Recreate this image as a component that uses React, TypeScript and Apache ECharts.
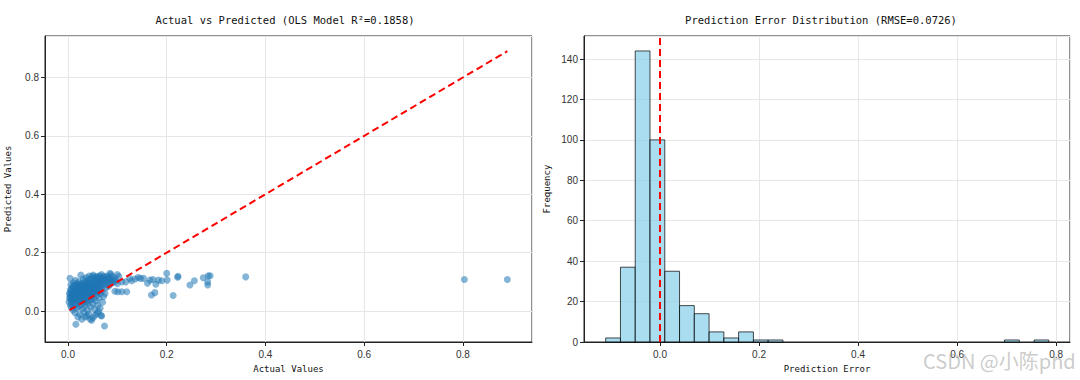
import React, { useEffect, useRef } from "react";
import * as echarts from "echarts";

// Left panel: actual vs predicted (OLS)
const actualValues: number[] = [
  0.002, 0.003, 0.004, 0.004, 0.005, 0.005, 0.006, 0.006, 0.007, 0.007, 0.008, 0.008, 0.009, 0.009, 0.010, 0.010,
  0.011, 0.011, 0.012, 0.012, 0.013, 0.013, 0.014, 0.014, 0.015, 0.015, 0.016, 0.016, 0.017, 0.017, 0.018, 0.018,
  0.019, 0.019, 0.020, 0.020, 0.021, 0.021, 0.022, 0.022, 0.023, 0.023, 0.024, 0.024, 0.025, 0.025, 0.026, 0.026,
  0.027, 0.027, 0.028, 0.028, 0.029, 0.029, 0.030, 0.030, 0.031, 0.031, 0.032, 0.032, 0.033, 0.033, 0.034, 0.034,
  0.035, 0.035, 0.036, 0.036, 0.037, 0.037, 0.038, 0.038, 0.039, 0.039, 0.040, 0.040, 0.041, 0.041, 0.042, 0.042,
  0.043, 0.043, 0.044, 0.044, 0.045, 0.045, 0.046, 0.046, 0.047, 0.047, 0.048, 0.048, 0.049, 0.049, 0.050, 0.050,
  0.051, 0.051, 0.052, 0.052, 0.053, 0.053, 0.054, 0.054, 0.055, 0.055, 0.056, 0.056, 0.057, 0.057, 0.058, 0.058,
  0.059, 0.059, 0.060, 0.060, 0.061, 0.061, 0.062, 0.062, 0.063, 0.063, 0.064, 0.064, 0.065, 0.065, 0.066, 0.066,
  0.067, 0.067, 0.068, 0.068, 0.069, 0.069, 0.070, 0.070, 0.071, 0.072, 0.072, 0.073, 0.074, 0.074, 0.075, 0.076,
  0.077, 0.078, 0.079, 0.080, 0.081, 0.082, 0.083, 0.084, 0.085, 0.086, 0.087, 0.088, 0.090, 0.091, 0.093, 0.095,
  0.095, 0.097, 0.100, 0.101,
  0.003, 0.005, 0.006, 0.008, 0.009, 0.010, 0.011, 0.012, 0.013, 0.014, 0.015, 0.016, 0.017, 0.018, 0.019, 0.020,
  0.021, 0.022, 0.023, 0.024, 0.025, 0.026, 0.027, 0.028, 0.029, 0.030, 0.031, 0.032, 0.033, 0.034, 0.035, 0.036,
  0.037, 0.038, 0.039, 0.040, 0.041, 0.042, 0.043, 0.044, 0.045, 0.046, 0.047, 0.048, 0.049, 0.050, 0.052, 0.053,
  0.055, 0.057, 0.060, 0.062, 0.064, 0.067,
  0.100, 0.103, 0.109, 0.109, 0.117, 0.119, 0.125, 0.129, 0.136, 0.142, 0.147, 0.153, 0.161, 0.166, 0.169, 0.172,
  0.176, 0.178, 0.183, 0.190, 0.200, 0.201, 0.213, 0.222, 0.223, 0.247, 0.256, 0.274, 0.284, 0.288, 0.283, 0.283,
  0.360, 0.803, 0.890,
];
const predictedValues: number[] = [
  0.031, 0.045, 0.112, 0.058, 0.020, 0.071, 0.038, 0.090, 0.012, 0.052, 0.066, 0.027, 0.082, 0.043, 0.004, 0.060,
  0.097, 0.035, 0.075, 0.018, 0.050, 0.088, -0.006, 0.062, 0.040, 0.105, -0.045, 0.078, 0.025, 0.055, 0.093, 0.010,
  0.068, 0.046, -0.020, 0.084, 0.033, 0.059, 0.100, 0.015, 0.072, 0.048, -0.012, 0.090, 0.038, 0.065, 0.123, 0.022,
  0.080, 0.053, -0.028, 0.095, 0.042, 0.070, 0.008, 0.060, 0.110, 0.030, 0.086, -0.004, 0.050, 0.075, 0.101, 0.018,
  0.064, -0.020, 0.088, 0.040, 0.115, 0.057, -0.017, 0.079, 0.026, 0.096, 0.062, 0.003, 0.106, 0.045, 0.083, -0.010,
  0.070, 0.120, 0.035, 0.092, -0.028, 0.058, 0.110, 0.014, 0.076, 0.098, -0.031, 0.050, 0.118, 0.087, 0.024, 0.067,
  0.123, -0.022, 0.095, 0.042, 0.080, 0.112, 0.060, 0.005, -0.014, 0.102, 0.072, 0.118, 0.035, 0.090, 0.055, 0.108,
  -0.008, 0.084, 0.117, 0.020, 0.066, 0.100, -0.002, 0.112, 0.078, 0.045, 0.094, 0.121, 0.010, 0.060, 0.104, 0.085,
  -0.015, 0.115, 0.125, -0.017, 0.070, 0.098, 0.112, 0.030, 0.088, 0.119, 0.050, 0.106, -0.051, 0.092, 0.060, 0.114,
  0.080, 0.106, 0.120, 0.096, 0.110, 0.085, 0.116, 0.102, 0.129, 0.092, 0.125, 0.108, 0.118, 0.098, 0.105, 0.068,
  0.112, 0.102, 0.094, 0.066,
  0.060, 0.048, 0.075, 0.040, 0.055, 0.070, 0.050, 0.062, 0.030, 0.085, 0.058, 0.045, 0.070, 0.036, 0.080, 0.052,
  0.075, 0.060, 0.090, 0.040, 0.082, 0.057, 0.068, 0.046, 0.088, 0.075, 0.054, 0.066, 0.092, 0.044, 0.080, 0.070,
  0.032, 0.098, 0.060, 0.085, 0.072, 0.050, 0.095, 0.068, 0.082, 0.055, 0.040, 0.090, 0.070, 0.100, 0.062, 0.090,
  0.078, 0.068, 0.092, 0.080, 0.070, 0.095,
  0.125, 0.118, 0.100, 0.066, 0.100, 0.066, 0.112, 0.104, 0.110, 0.115, 0.112, 0.112, 0.095, 0.106, 0.055, 0.108,
  0.063, 0.092, 0.106, 0.104, 0.129, 0.106, 0.053, 0.116, 0.119, 0.089, 0.104, 0.114, 0.121, 0.121, 0.100, 0.089,
  0.117, 0.108, 0.108,
];
const idealLine: number[][] = [
  [0.003, 0.003],
  [0.89, 0.89],
];

// Right panel: histogram of prediction errors (30 bins)
const histStart = -0.1097;
const histBinWidth = 0.02983;
const histCounts: number[] = [
  2, 37, 144, 100, 35, 18, 14, 5, 2, 5, 1, 1, 0, 0, 0, 0, 0, 0, 0, 0, 0, 0, 0, 0, 0, 0, 0, 1, 0, 1,
];

const leftTitle = "Actual vs Predicted (OLS Model R²=0.1858)";
const rightTitle = "Prediction Error Distribution (RMSE=0.0726)";

const MONO = "'DejaVu Sans Mono', 'Liberation Mono', monospace";
const SANS = "'Liberation Sans', Arial, sans-serif";

export default function App() {
  const ref = useRef<HTMLDivElement>(null);

  useEffect(() => {
    if (!ref.current) return;
    const chart = echarts.init(ref.current, undefined, { renderer: "svg" });

    const scatterData = actualValues.map((x, i) => [x, predictedValues[i]]);
    const histData = histCounts
      .map((c, i) => [histStart + i * histBinWidth, histStart + (i + 1) * histBinWidth, c])
      .filter((d) => d[2] > 0);

    const splitLine = { show: true, lineStyle: { color: "#e6e6e6", width: 1 } };
    const axisLine = { show: true, onZero: false, lineStyle: { color: "#222", width: 1 } };
    const axisTick = { show: true, inside: false, length: 4, lineStyle: { color: "#222" } };
    const tickLabel = { color: "#333", fontFamily: SANS, fontSize: 10 };
    const nameStyle = { color: "#111", fontFamily: MONO, fontSize: 9 };

    chart.setOption({
      animation: false,
      backgroundColor: "#ffffff",
      title: [
        {
          text: leftTitle,
          left: 280,
          top: 9,
          textAlign: "center",
          textStyle: { fontFamily: MONO, fontSize: 10.5, fontWeight: "normal", color: "#111" },
        },
        {
          text: rightTitle,
          left: 816,
          top: 9,
          textAlign: "center",
          textStyle: { fontFamily: MONO, fontSize: 10.5, fontWeight: "normal", color: "#111" },
        },
      ],
      grid: [
        { left: 45, top: 36, width: 487, height: 306, show: true, borderColor: "#222", borderWidth: 1, backgroundColor: "transparent" },
        { left: 584, top: 36, width: 486, height: 306, show: true, borderColor: "#222", borderWidth: 1, backgroundColor: "transparent" },
      ],
      xAxis: [
        {
          type: "value",
          gridIndex: 0,
          min: -0.0466,
          max: 0.94,
          splitNumber: 5,
          name: "Actual Values",
          nameLocation: "middle",
          nameGap: 22,
          nameTextStyle: nameStyle,
          axisLine,
          axisTick,
          splitLine,
          axisLabel: { ...tickLabel, margin: 7, showMinLabel: false, showMaxLabel: false, formatter: (v: number) => v.toFixed(1) },
        },
        {
          type: "value",
          gridIndex: 1,
          min: -0.1535,
          max: 0.828,
          splitNumber: 5,
          name: "Prediction Error",
          nameLocation: "middle",
          nameGap: 22,
          nameTextStyle: nameStyle,
          axisLine,
          axisTick,
          splitLine,
          axisLabel: { ...tickLabel, margin: 7, showMinLabel: false, showMaxLabel: false, formatter: (v: number) => v.toFixed(1) },
        },
      ],
      yAxis: [
        {
          type: "value",
          gridIndex: 0,
          min: -0.106,
          max: 0.942,
          splitNumber: 5,
          name: "Predicted Values",
          nameLocation: "middle",
          nameGap: 33,
          nameTextStyle: nameStyle,
          axisLine,
          axisTick,
          splitLine,
          axisLabel: { ...tickLabel, margin: 6, showMinLabel: false, showMaxLabel: false, formatter: (v: number) => v.toFixed(1) },
        },
        {
          type: "value",
          gridIndex: 1,
          min: 0,
          max: 151.4,
          interval: 20,
          name: "Frequency",
          nameLocation: "middle",
          nameGap: 33,
          nameTextStyle: nameStyle,
          axisLine,
          axisTick,
          splitLine,
          axisLabel: { ...tickLabel, margin: 6, showMaxLabel: false, formatter: (v: number) => String(Math.round(v)) },
        },
      ],
      series: [
        {
          type: "scatter",
          xAxisIndex: 0,
          yAxisIndex: 0,
          data: scatterData,
          symbolSize: 7,
          itemStyle: { color: "#1f77b4", opacity: 0.55 },
          z: 2,
        },
        {
          type: "line",
          xAxisIndex: 0,
          yAxisIndex: 0,
          data: idealLine,
          symbol: "none",
          lineStyle: { color: "#ff0000", width: 2, type: [7, 4] },
          z: 3,
        },
        {
          type: "custom",
          xAxisIndex: 1,
          yAxisIndex: 1,
          data: histData,
          renderItem: (params: any, api: any) => {
            const p0 = api.coord([api.value(0), api.value(2)]);
            const p1 = api.coord([api.value(1), 0]);
            return {
              type: "rect",
              shape: { x: p0[0], y: p0[1], width: p1[0] - p0[0], height: p1[1] - p0[1] },
              style: { fill: "rgba(135,206,235,0.7)", stroke: "rgba(0,0,0,0.7)", lineWidth: 1 },
            };
          },
          markLine: {
            silent: true,
            symbol: "none",
            label: { show: false },
            lineStyle: { color: "#ff0000", width: 2, type: [7, 4] },
            data: [{ xAxis: 0 }],
          },
          z: 2,
        },
      ],
      graphic: [
        {
          type: "text",
          left: 923,
          top: 350,
          style: {
            text: "CSDN @小陈phd",
            fill: "rgba(160,160,160,0.55)",
            font: "20px 'Noto Sans CJK SC', 'Noto Sans', sans-serif",
          },
          z: 10,
        },
      ],
    });

    return () => chart.dispose();
  }, []);

  return <div ref={ref} style={{ position: "fixed", left: 0, top: 0, width: 1080, height: 380 }} />;
}
